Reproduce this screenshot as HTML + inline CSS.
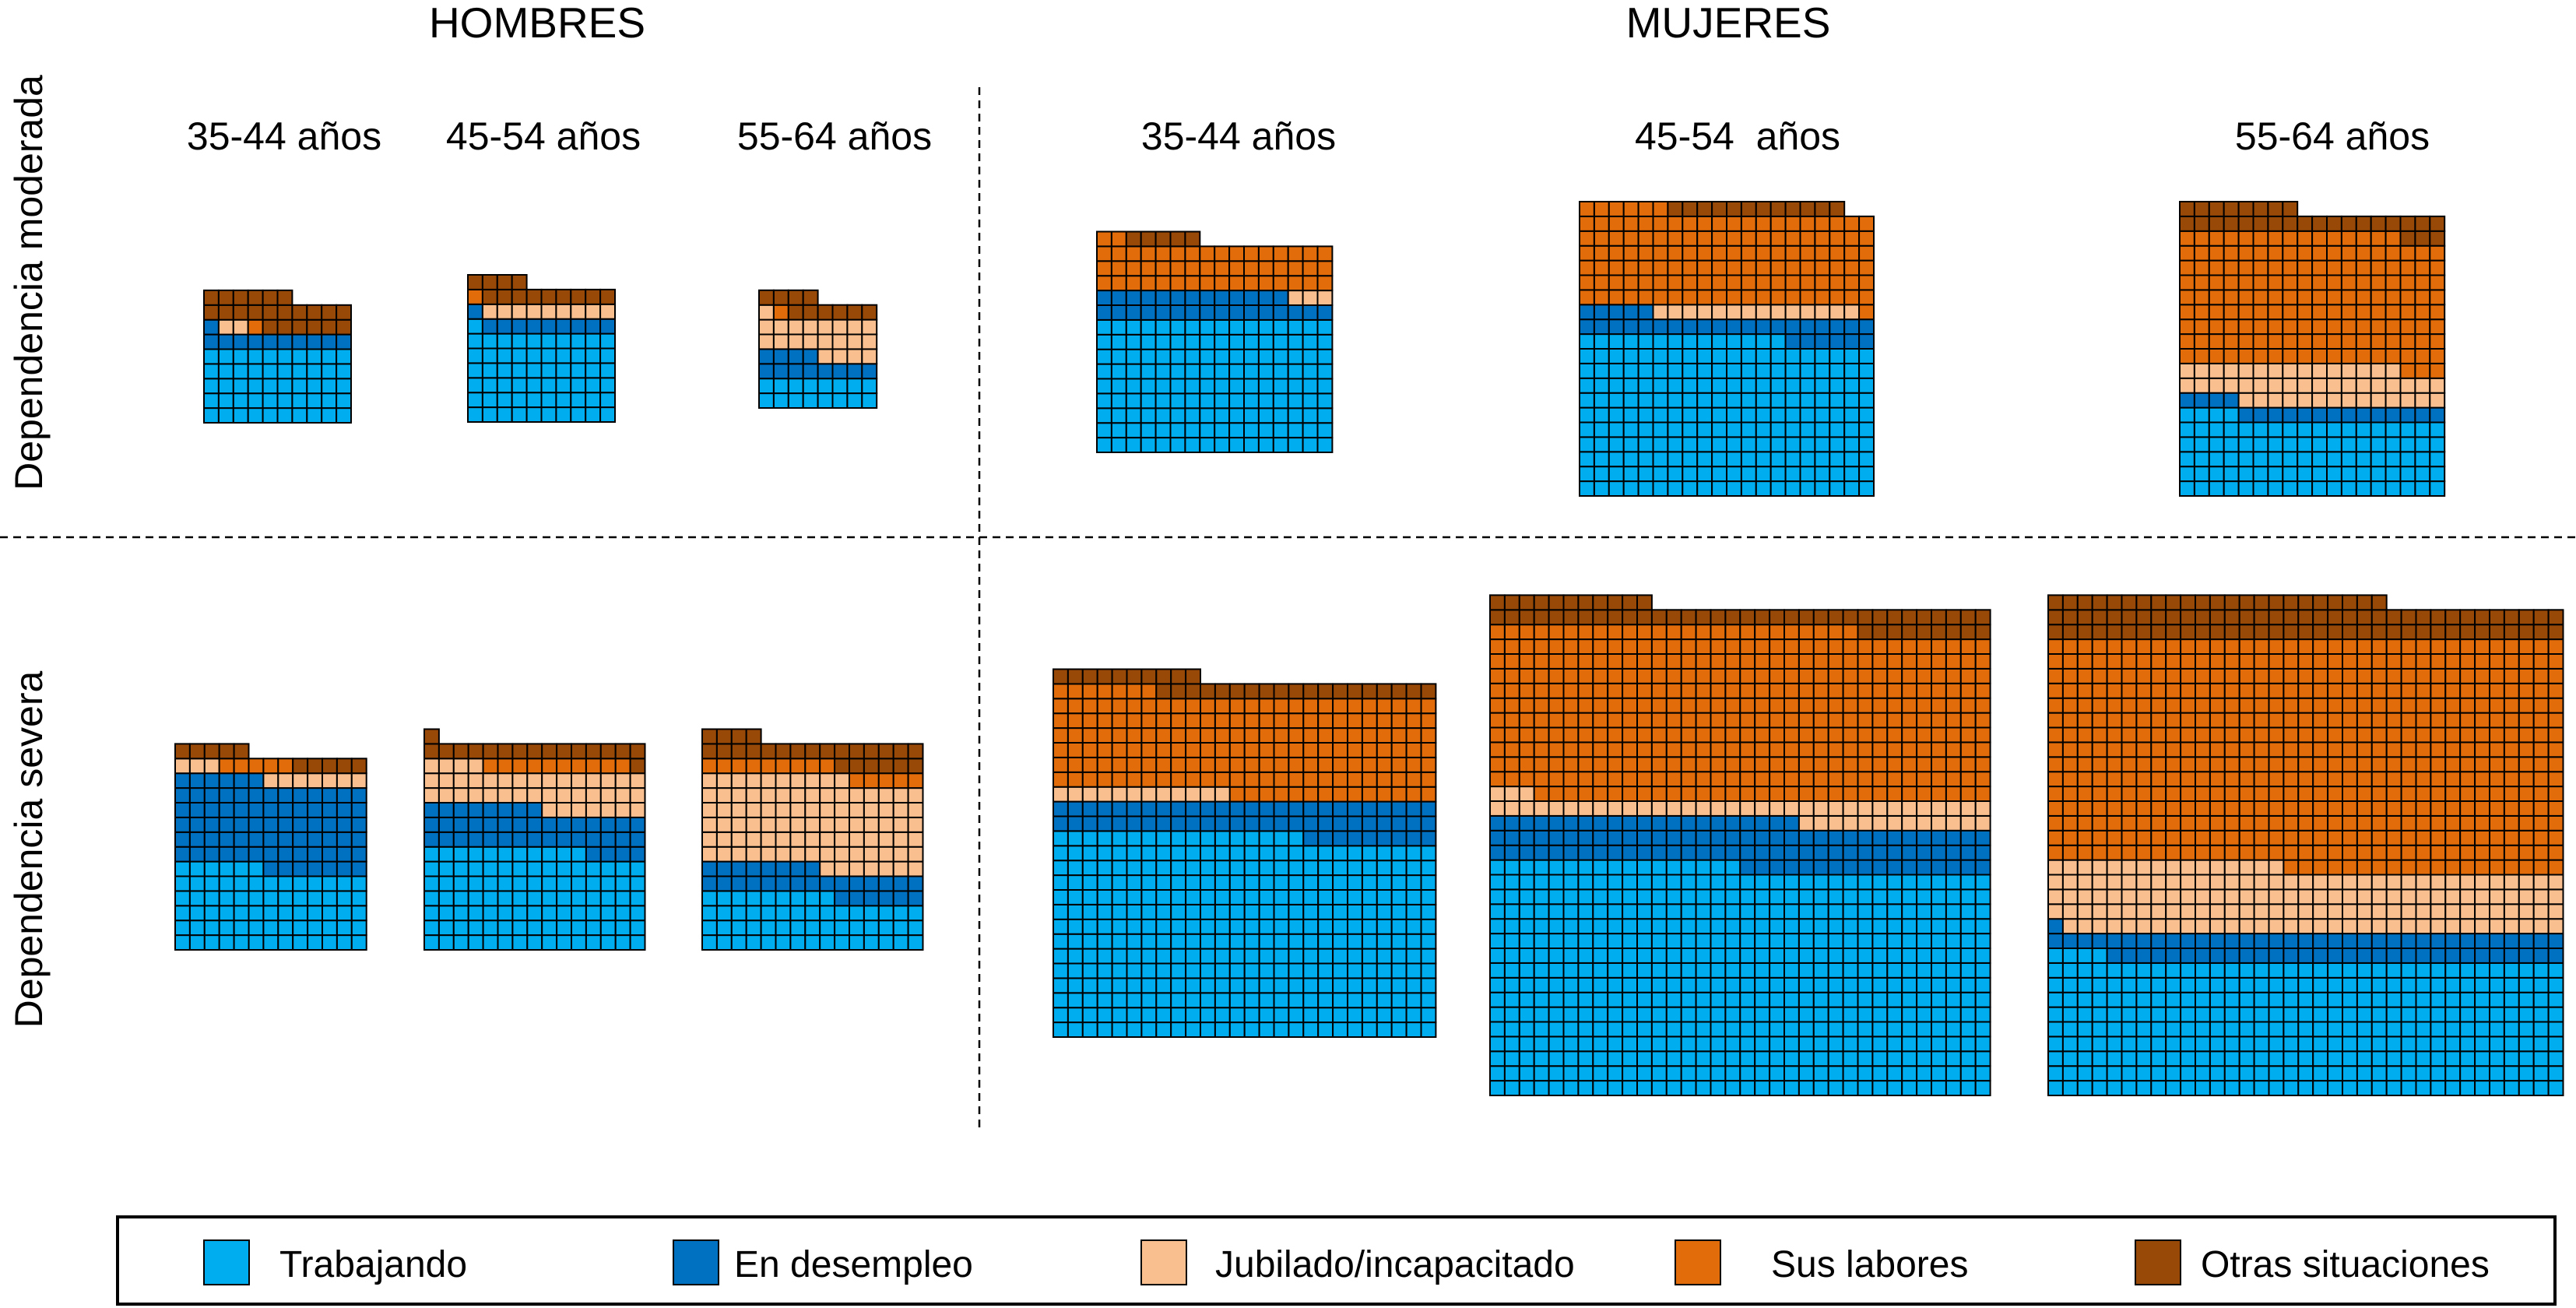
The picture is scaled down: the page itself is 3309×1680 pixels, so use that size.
<!DOCTYPE html>
<html><head><meta charset="utf-8"><style>
html,body{margin:0;padding:0;background:#fff}
svg{display:block}
text{font-family:"Liberation Sans",Arial,sans-serif;fill:#000}
</style></head><body>
<svg id="chart" width="3309" height="1680" viewBox="0 0 3309 1680" xmlns="http://www.w3.org/2000/svg">
<text x="690" y="48" font-size="55" text-anchor="middle">HOMBRES</text>
<text x="2220" y="48" font-size="55" text-anchor="middle">MUJERES</text>
<text x="365" y="192" font-size="50" text-anchor="middle">35-44 años</text>
<text x="698" y="192" font-size="50" text-anchor="middle">45-54 años</text>
<text x="1072" y="192" font-size="50" text-anchor="middle">55-64 años</text>
<text x="1591" y="192" font-size="50" text-anchor="middle">35-44 años</text>
<text x="2232" y="192" font-size="50" text-anchor="middle" xml:space="preserve">45-54  años</text>
<text x="2996" y="192" font-size="50" text-anchor="middle">55-64 años</text>
<text transform="translate(54,363) rotate(-90)" font-size="50" text-anchor="middle">Dependencia moderada</text>
<text transform="translate(54,1091) rotate(-90)" font-size="50" text-anchor="middle">Dependencia severa</text>
<line x1="1258" y1="112" x2="1258" y2="1448" stroke="#000" stroke-width="2.5" stroke-dasharray="10,7"/>
<line x1="0" y1="690" x2="3309" y2="690" stroke="#000" stroke-width="2.5" stroke-dasharray="10,7"/>
<g id="panels"></g>
<rect x="151" y="1563" width="3131" height="112" fill="none" stroke="#000" stroke-width="4"/>
<g id="legend"></g>
</svg>
<script>
// categories (status)
const categories = ["Trabajando","En desempleo","Jubilado/incapacitado","Sus labores","Otras situaciones"];
// panels: HM35, HM45, HM55, MM35, MM45, MM55, HS35, HS45, HS55, MS35, MS45, MS55
const panelNames = ["hombres-moderada-35-44","hombres-moderada-45-54","hombres-moderada-55-64","mujeres-moderada-35-44","mujeres-moderada-45-54","mujeres-moderada-55-64","hombres-severa-35-44","hombres-severa-45-54","hombres-severa-55-64","mujeres-severa-35-44","mujeres-severa-45-54","mujeres-severa-55-64"];
const trabajando = [50,61,16,144,214,94,71,101,54,355,527,319];
const desempleo = [11,10,12,29,31,18,78,42,29,61,106,67];
const jubilado = [2,9,21,3,14,47,10,41,92,12,50,155];
const susLabores = [1,1,1,50,127,162,5,10,14,177,396,544];
const otras = [22,13,10,5,12,29,10,17,25,29,54,93];

// layout (not data)
const colors = ["#00AEEF","#0070C0","#F9BF8F","#E36C0A","#984807"];
const layoutCols = [10,10,8,16,20,18,13,15,15,26,34,35];
const layoutLeft = [262,601,975,1409,2029,2800,225,545,902,1353,1914,2631];
const layoutBottom = [543,542,524,581,637,637,1220,1220,1220,1332,1407,1407];
const CELL = 18.9;
const NS = "http://www.w3.org/2000/svg";
const series = [trabajando,desempleo,jubilado,susLabores,otras];

const panelsG = document.getElementById("panels");
panelNames.forEach((pn, p) => {
  const g = document.createElementNS(NS,"g");
  
  
  const n = layoutCols[p];
  let idx = 0;
  series.forEach((arr, c) => {
    for (let k = 0; k < arr[p]; k++) {
      const row = Math.floor(idx / n), col = idx % n;
      const r = document.createElementNS(NS,"rect");
      r.setAttribute("x", (layoutLeft[p] + col * CELL).toFixed(2));
      r.setAttribute("y", (layoutBottom[p] - (row + 1) * CELL).toFixed(2));
      r.setAttribute("width", CELL.toFixed(2));
      r.setAttribute("height", CELL.toFixed(2));
      r.setAttribute("fill", colors[c]);
      r.setAttribute("stroke", "#000");
      r.setAttribute("stroke-width", "2");
      
      
      g.appendChild(r);
      idx++;
    }
  });
  panelsG.appendChild(g);
});

// legend
const legendSwatchX = [262,865,1466,2152,2743];
const legendTextX = [359,943,1561,2275,2827];
const legendG = document.getElementById("legend");
categories.forEach((cat, i) => {
  const r = document.createElementNS(NS,"rect");
  r.setAttribute("x", legendSwatchX[i]);
  r.setAttribute("y", 1593);
  r.setAttribute("width", 58);
  r.setAttribute("height", 57);
  r.setAttribute("fill", colors[i]);
  r.setAttribute("stroke", "#000");
  r.setAttribute("stroke-width", "2");
  
  
  legendG.appendChild(r);
  const t = document.createElementNS(NS,"text");
  t.setAttribute("x", legendTextX[i]);
  t.setAttribute("y", 1640);
  t.setAttribute("font-size", "48");
  t.textContent = cat;
  
  
  legendG.appendChild(t);
});
</script>
</body></html>
